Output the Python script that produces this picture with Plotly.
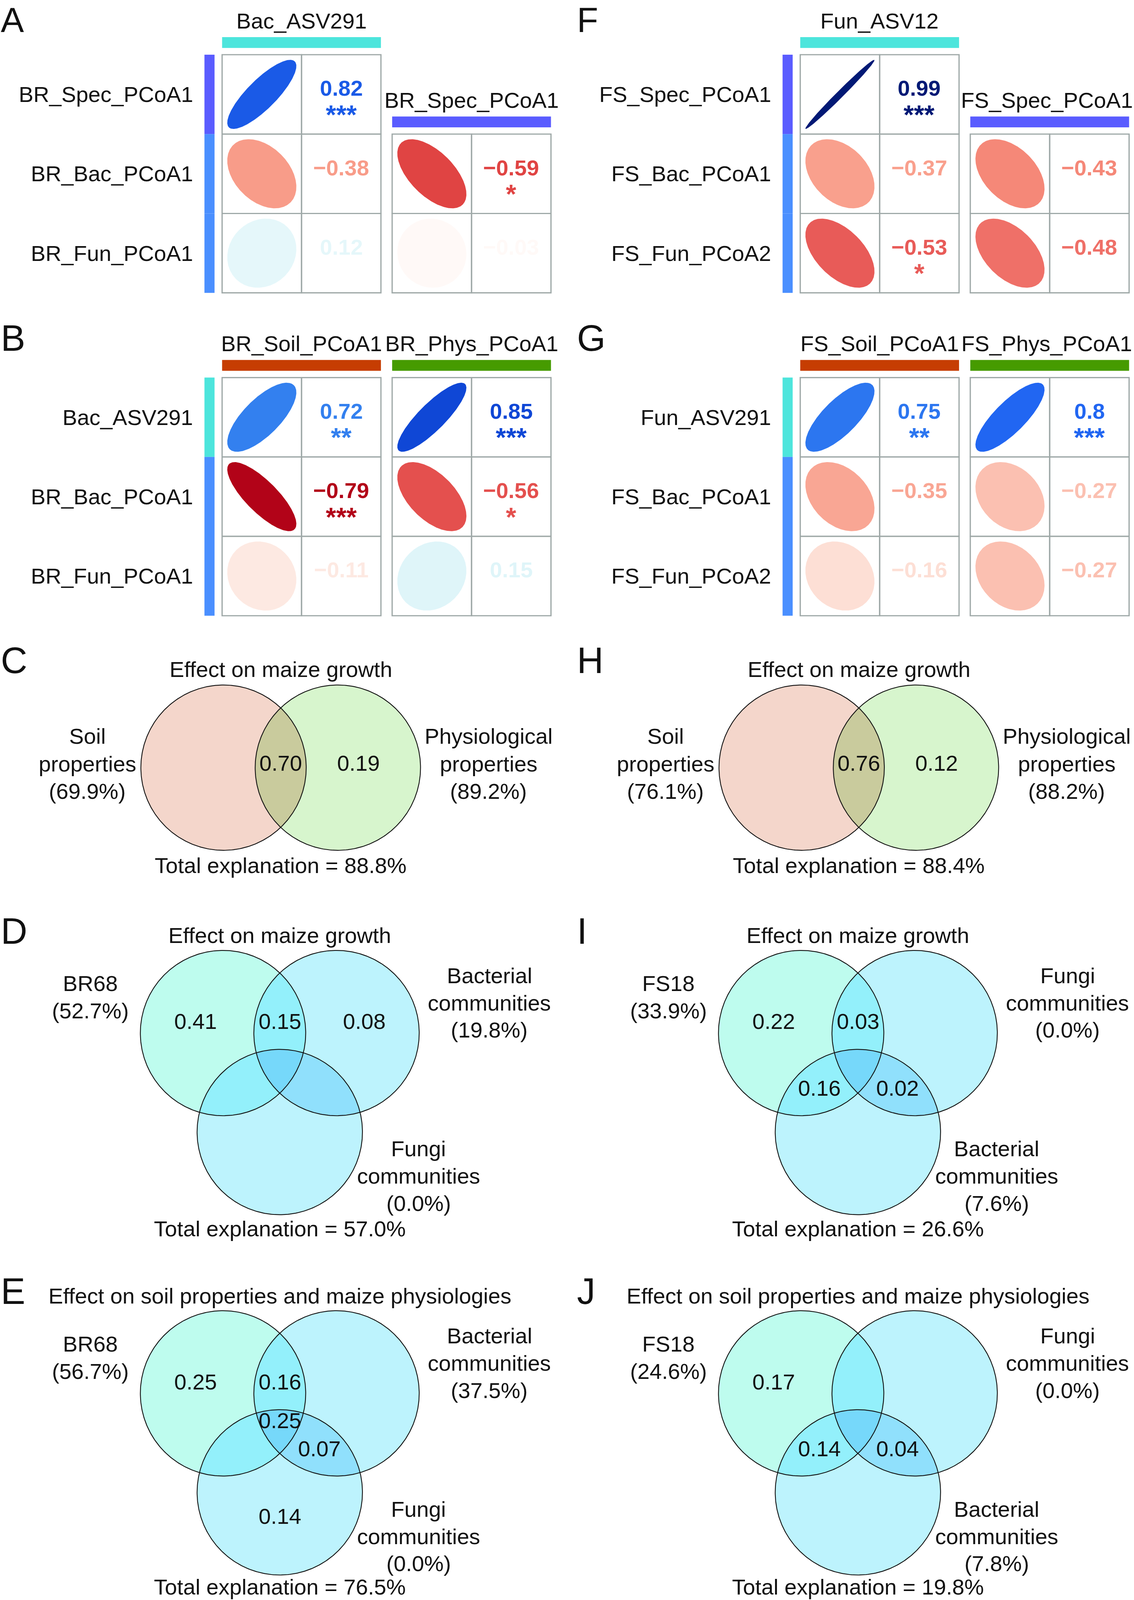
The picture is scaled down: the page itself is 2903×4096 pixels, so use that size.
import numpy as np
import plotly.graph_objects as go

# ======================= DATA =======================
# --- correlation panels (corrplot style) ---
A_rows = ["BR_Spec_PCoA1", "BR_Bac_PCoA1", "BR_Fun_PCoA1"]
A_cols = ["Bac_ASV291", "BR_Spec_PCoA1"]
A_r_col1 = [0.82, -0.38, 0.12]
A_p_col1 = ["***", "", ""]
A_r_col2 = [-0.59, -0.03]          # second column covers rows 2-3
A_p_col2 = ["*", ""]

F_rows = ["FS_Spec_PCoA1", "FS_Bac_PCoA1", "FS_Fun_PCoA2"]
F_cols = ["Fun_ASV12", "FS_Spec_PCoA1"]
F_r_col1 = [0.99, -0.37, -0.53]
F_p_col1 = ["***", "", "*"]
F_r_col2 = [-0.43, -0.48]
F_p_col2 = ["", ""]

B_rows = ["Bac_ASV291", "BR_Bac_PCoA1", "BR_Fun_PCoA1"]
B_cols = ["BR_Soil_PCoA1", "BR_Phys_PCoA1"]
B_r_col1 = [0.72, -0.79, -0.11]
B_p_col1 = ["**", "***", ""]
B_r_col2 = [0.85, -0.56, 0.15]
B_p_col2 = ["***", "*", ""]

G_rows = ["Fun_ASV291", "FS_Bac_PCoA1", "FS_Fun_PCoA2"]
G_cols = ["FS_Soil_PCoA1", "FS_Phys_PCoA1"]
G_r_col1 = [0.75, -0.35, -0.16]
G_p_col1 = ["**", "", ""]
G_r_col2 = [0.8, -0.27, -0.27]
G_p_col2 = ["***", "", ""]

# --- variation partitioning (Venn) panels ---
TITLE_GROWTH = "Effect on maize growth"
TITLE_SOIL = "Effect on soil properties and maize physiologies"

C_names = [["Soil", "properties"], ["Physiological", "properties"]]
C_pct = [69.9, 89.2]
C_regions = {"AB": 0.70, "B": 0.19}
C_total = 88.8

H_names = [["Soil", "properties"], ["Physiological", "properties"]]
H_pct = [76.1, 88.2]
H_regions = {"AB": 0.76, "B": 0.12}
H_total = 88.4

D_names = [["BR68"], ["Bacterial", "communities"], ["Fungi", "communities"]]
D_pct = [52.7, 19.8, 0.0]
D_regions = {"A": 0.41, "AB": 0.15, "B": 0.08}
D_total = 57.0

E_names = [["BR68"], ["Bacterial", "communities"], ["Fungi", "communities"]]
E_pct = [56.7, 37.5, 0.0]
E_regions = {"A": 0.25, "AB": 0.16, "ABC": 0.25, "BC": 0.07, "C": 0.14}
E_total = 76.5

I_names = [["FS18"], ["Fungi", "communities"], ["Bacterial", "communities"]]
I_pct = [33.9, 0.0, 7.6]
I_regions = {"A": 0.22, "AB": 0.03, "AC": 0.16, "BC": 0.02}
I_total = 26.6

J_names = [["FS18"], ["Fungi", "communities"], ["Bacterial", "communities"]]
J_pct = [24.6, 0.0, 7.8]
J_regions = {"A": 0.17, "AC": 0.14, "BC": 0.04}
J_total = 19.8

# ======================= STYLE / LAYOUT =======================
W_UNITS, H_UNITS = 1111.0, 1568.0
FIG_W, FIG_H = 2903, 4096
S = FIG_W / W_UNITS
FONT = "Liberation Sans, Arial, Helvetica, sans-serif"
TXT = 21.5
LINE = 26.7
RIGHT = 566.4
MAX_LABEL_X = 1025.5   # keep right-most column labels inside the page

CELL = 77.8
GRID_COL = "#9fa9a8"
CYAN, PURPLE, BLUE = "#4de5dc", "#5a5cff", "#4a8fff"
ORANGE, GREEN = "#c63d02", "#469b00"

NEG_ANCH = [(0.0, (255, 255, 255)), (0.2, (252, 215, 203)), (0.4, (248, 150, 130)),
            (0.5, (237, 103, 98)), (0.6, (222, 64, 64)), (0.8, (176, 0, 22)), (1.0, (103, 0, 31))]
POS_ANCH = [(0.0, (255, 255, 255)), (0.2, (212, 242, 247)), (0.45, (140, 200, 245)),
            (0.7, (55, 135, 238)), (0.8, (33, 102, 242)), (0.85, (15, 71, 214)), (1.0, (0, 22, 110))]

VENN2_COL = {"A": "#f4d6cb", "B": "#d7f5cd", "AB": "#c9cb9d"}
VENN3_COL = {"A": "#befcee", "B": "#bdf3fd", "C": "#bdf3fd", "AB": "#93f0fb",
             "AC": "#93f0fb", "BC": "#90e0fc", "ABC": "#76d8fa"}


def corr_color(r):
    anch = POS_ANCH if r >= 0 else NEG_ANCH
    a = abs(r)
    for (v0, c0), (v1, c1) in zip(anch[:-1], anch[1:]):
        if v0 <= a <= v1:
            f = (a - v0) / (v1 - v0)
            c = [round(c0[k] + f * (c1[k] - c0[k])) for k in range(3)]
            return "rgb(%d,%d,%d)" % tuple(c)
    return "rgb(%d,%d,%d)" % anch[-1][1]


def fmt_r(r):
    s = ("%g" % abs(r))
    return ("\u2212" + s) if r < 0 else s


fig = go.Figure()
shapes = []
annotations = []


def add_text(x, y, text, size=TXT, color="#111111", bold=False, xanchor="center", yanchor="middle"):
    annotations.append(dict(
        x=x, y=y, xref="x", yref="y", text=text, showarrow=False,
        xanchor=xanchor, yanchor=yanchor, borderpad=0, align="center",
        font=dict(family=FONT, size=size * S, color=color, weight=700 if bold else 400)))


def rect(x0, y0, x1, y1, fill=None, line=None, lw=0):
    shapes.append(dict(type="rect", xref="x", yref="y", x0=x0, y0=y0, x1=x1, y1=y1,
                       fillcolor=fill if fill else "rgba(0,0,0,0)",
                       line=dict(color=line if line else "rgba(0,0,0,0)", width=lw),
                       layer="above"))


def ellipse(cx, cy, r):
    t = np.linspace(0, 2 * np.pi, 240)
    d = np.arccos(np.clip(r, -1, 1))
    s = 0.435 * CELL
    fig.add_trace(go.Scatter(x=cx + s * np.cos(t + d / 2), y=cy - s * np.cos(t - d / 2),
                             mode="lines", fill="toself", fillcolor=corr_color(r),
                             line=dict(width=0, color=corr_color(r)),
                             hoverinfo="skip", showlegend=False))


NUM_SIZE = 21.6
STAR_SIZE = 26.0


def corr_grid(gx0, top, rvals, pvals):
    for i, (r, p) in enumerate(zip(rvals, pvals)):
        y0 = top + i * CELL
        yc = y0 + CELL / 2
        rect(gx0, y0, gx0 + CELL, y0 + CELL, line=GRID_COL, lw=3.2)
        rect(gx0 + CELL, y0, gx0 + 2 * CELL, y0 + CELL, line=GRID_COL, lw=3.2)
        ellipse(gx0 + CELL / 2, yc, r)
        col = corr_color(r)
        add_text(gx0 + 1.5 * CELL, yc - 6.0, fmt_r(r), size=NUM_SIZE, color=col, bold=True)
        if p:
            # asterisk glyph sits ~0.2em above the text-box centre
            add_text(gx0 + 1.5 * CELL, yc + 14.5 + 0.2035 * STAR_SIZE, p,
                     size=STAR_SIZE, color=col, bold=True)


def corr_panel(ox, top, rows, cols, r1, p1, r2, p2, start2, rowbar, colbar):
    gx1 = ox + 217.6
    gx2 = ox + 384.2
    for i, name in enumerate(rows):
        yc = top + (i + 0.5) * CELL
        add_text(ox + 189.5, yc, name, xanchor="right")
        rect(ox + 200.3, top + i * CELL, ox + 210.2, top + (i + 1) * CELL, fill=rowbar[i])
    for gx, gtop, name, rv, pv, bc in [(gx1, top, cols[0], r1, p1, colbar[0]),
                                       (gx2, top + start2 * CELL, cols[1], r2, p2, colbar[1])]:
        rect(gx, gtop - 17.2, gx + 2 * CELL, gtop - 6.6, fill=bc)
        add_text(min(gx + CELL, MAX_LABEL_X), gtop - 33.2, name)
        corr_grid(gx, gtop, rv, pv)


corr_panel(0, 53.6, A_rows, A_cols, A_r_col1, A_p_col1, A_r_col2, A_p_col2, 1,
           [PURPLE, BLUE, BLUE], [CYAN, PURPLE])
corr_panel(RIGHT, 53.6, F_rows, F_cols, F_r_col1, F_p_col1, F_r_col2, F_p_col2, 1,
           [PURPLE, BLUE, BLUE], [CYAN, PURPLE])
corr_panel(0, 370.0, B_rows, B_cols, B_r_col1, B_p_col1, B_r_col2, B_p_col2, 0,
           [CYAN, BLUE, BLUE], [ORANGE, GREEN])
corr_panel(RIGHT, 370.0, G_rows, G_cols, G_r_col1, G_p_col1, G_r_col2, G_p_col2, 0,
           [CYAN, BLUE, BLUE], [ORANGE, GREEN])


# ---------------- Venn helpers ----------------
def circle_poly(cx, cy, r, n=320):
    t = np.linspace(0, 2 * np.pi, n, endpoint=False)
    return list(zip(cx + r * np.cos(t), cy + r * np.sin(t)))


def clip_poly(subject, clipper):
    def inside(p, a, b):
        return (b[0] - a[0]) * (p[1] - a[1]) - (b[1] - a[1]) * (p[0] - a[0]) >= 0

    def inter(p1, p2, a, b):
        x1, y1 = p1; x2, y2 = p2; x3, y3 = a; x4, y4 = b
        den = (x1 - x2) * (y3 - y4) - (y1 - y2) * (x3 - x4)
        if abs(den) < 1e-12:
            return p2
        t = ((x1 - x3) * (y3 - y4) - (y1 - y3) * (x3 - x4)) / den
        return (x1 + t * (x2 - x1), y1 + t * (y2 - y1))

    out = list(subject)
    n = len(clipper)
    for i in range(n):
        a, b = clipper[i], clipper[(i + 1) % n]
        inp, out = out, []
        if not inp:
            break
        s = inp[-1]
        for e in inp:
            if inside(e, a, b):
                if not inside(s, a, b):
                    out.append(inter(s, e, a, b))
                out.append(e)
            elif inside(s, a, b):
                out.append(inter(s, e, a, b))
            s = e
    return out


def fill_poly(poly, color):
    xs = [p[0] for p in poly] + [poly[0][0]]
    ys = [p[1] for p in poly] + [poly[0][1]]
    fig.add_trace(go.Scatter(x=xs, y=ys, mode="lines", fill="toself", fillcolor=color,
                             line=dict(width=0, color=color), hoverinfo="skip", showlegend=False))


def outline(poly):
    xs = [p[0] for p in poly] + [poly[0][0]]
    ys = [p[1] for p in poly] + [poly[0][1]]
    fig.add_trace(go.Scatter(x=xs, y=ys, mode="lines", line=dict(width=2.2, color="#111111"),
                             hoverinfo="skip", showlegend=False))


VR = 81.0


def venn2(ax, ay, names, pct, regions, total, title):
    dx = 112.0
    A = circle_poly(ax, ay, VR)
    B = circle_poly(ax + dx, ay, VR)
    fill_poly(A, VENN2_COL["A"])
    fill_poly(B, VENN2_COL["B"])
    fill_poly(clip_poly(A, B), VENN2_COL["AB"])
    outline(A)
    outline(B)
    off = {"A": (-27.0, -4.6), "AB": (dx / 2, -4.6), "B": (132.0, -4.6)}
    for k, v in regions.items():
        add_text(ax + off[k][0], ay + off[k][1], "%.2f" % v)
    for lx, nm, pc in [(-133.4, names[0], pct[0]), (259.6, names[1], pct[1])]:
        lines = nm + ["(%.1f%%)" % pc]
        for j, ln in enumerate(lines):
            add_text(ax + lx, ay - 30.8 + j * 27.0, ln)
    add_text(ax + dx / 2, ay - 96.3, title)
    add_text(ax + dx / 2, ay + 95.7, "Total explanation = %.1f%%" % total)


def venn3(ax, ay, names, pct, regions, total, title, total_dy=191.9):
    dx, cdx, cdy = 111.2, 55.6, 97.0
    A = circle_poly(ax, ay, VR)
    B = circle_poly(ax + dx, ay, VR)
    C = circle_poly(ax + cdx, ay + cdy, VR)
    fill_poly(A, VENN3_COL["A"])
    fill_poly(B, VENN3_COL["B"])
    fill_poly(C, VENN3_COL["C"])
    AB = clip_poly(A, B)
    fill_poly(AB, VENN3_COL["AB"])
    fill_poly(clip_poly(A, C), VENN3_COL["AC"])
    fill_poly(clip_poly(B, C), VENN3_COL["BC"])
    fill_poly(clip_poly(AB, C), VENN3_COL["ABC"])
    for P in (A, B, C):
        outline(P)
    off = {"A": (-27.0, -11.4), "AB": (cdx, -11.4), "B": (138.2, -11.4),
           "ABC": (cdx, 26.5), "AC": (18.0, 54.0), "BC": (94.5, 54.0), "C": (cdx, 120.5)}
    for k, v in regions.items():
        add_text(ax + off[k][0], ay + off[k][1], "%.2f" % v)
    label_pos = [(-130.0, -48.5), (261.0, -56.4), (191.5, 113.4)]
    for (lx, ly), nm, pc in zip(label_pos, names, pct):
        lines = nm + ["(%.1f%%)" % pc]
        for j, ln in enumerate(lines):
            add_text(ax + lx, ay + ly + j * LINE, ln)
    add_text(ax + cdx, ay - 95.6, title)
    add_text(ax + cdx, ay + total_dy, "Total explanation = %.1f%%" % total)


venn2(219.0, 752.3, C_names, C_pct, C_regions, C_total, TITLE_GROWTH)
venn2(219.0 + RIGHT, 752.3, H_names, H_pct, H_regions, H_total, TITLE_GROWTH)
venn3(218.5, 1012.4, D_names, D_pct, D_regions, D_total, TITLE_GROWTH)
venn3(218.5 + RIGHT, 1012.4, I_names, I_pct, I_regions, I_total, TITLE_GROWTH)
venn3(218.5, 1365.5, E_names, E_pct, E_regions, E_total, TITLE_SOIL, total_dy=189.6)
venn3(218.5 + RIGHT, 1365.5, J_names, J_pct, J_regions, J_total, TITLE_SOIL, total_dy=189.6)

# ---------------- panel letters ----------------
LEFT_LETTERS = ["A", "B", "C", "D", "E"]
RIGHT_LETTERS = ["F", "G", "H", "I", "J"]
LETTER_Y = [None, 331.3, 647.3, 912.3, 1265.3]
for lx, letters in [(0.3, LEFT_LETTERS), (RIGHT - 1.5, RIGHT_LETTERS)]:
    for letter, y in zip(letters, LETTER_Y):
        if y is None:
            # top row: anchor the text box at the page top so it is not clipped
            add_text(lx, 0.2, letter, size=34, xanchor="left", yanchor="top")
        else:
            add_text(lx, y, letter, size=36, xanchor="left")

fig.update_layout(
    width=FIG_W, height=FIG_H,
    margin=dict(l=0, r=0, t=0, b=0, pad=0),
    paper_bgcolor="white", plot_bgcolor="white",
    showlegend=False,
    xaxis=dict(range=[0, W_UNITS], visible=False, fixedrange=True),
    yaxis=dict(range=[H_UNITS, 0], visible=False, fixedrange=True),
    shapes=shapes, annotations=annotations,
)
fig.write_html("out.html",
               config={"displayModeBar": False},
               post_script="document.body.style.margin='0';document.body.style.padding='0';"
                           "document.documentElement.style.overflow='hidden';")
